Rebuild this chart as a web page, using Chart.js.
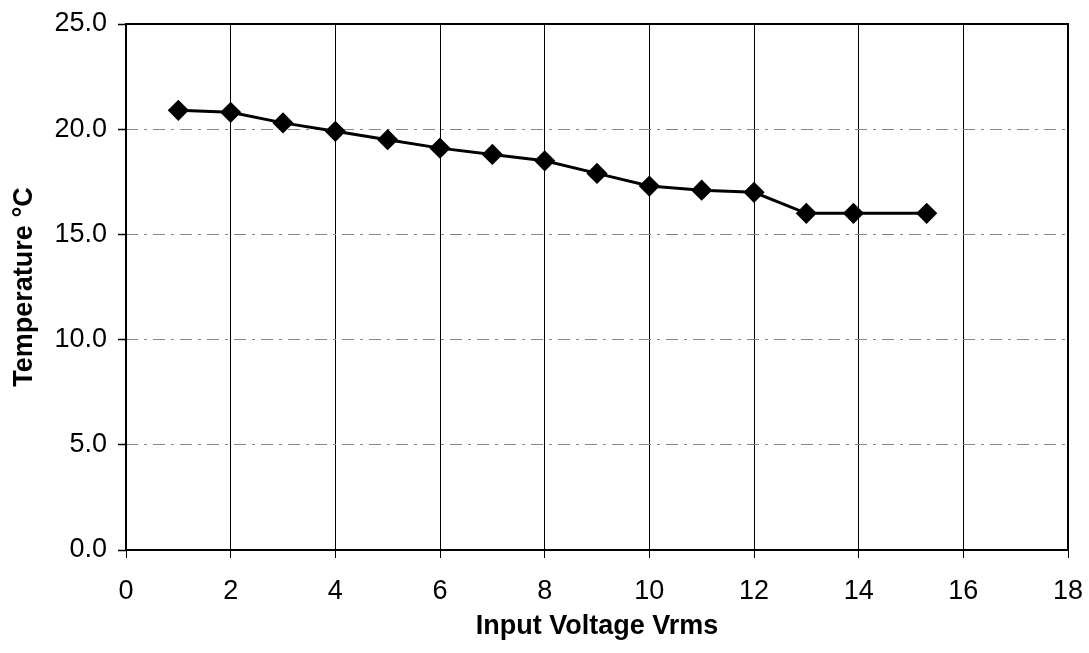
<!DOCTYPE html>
<html>
<head>
<meta charset="utf-8">
<script src="https://cdn.jsdelivr.net/npm/chart.js@4"></script>
<style>
  html, body { margin: 0; padding: 0; background: #fff; }
  #chartBox { width: 1089px; height: 653px; }
</style>
</head>
<body>
<div id="chartBox"><canvas id="tempChart" width="1089" height="653"></canvas></div>
<script>
// Values
const voltages = [1, 2, 3, 4, 5, 6, 7, 8, 9, 10, 11, 12, 13, 13.9, 15.3];
const temperatures = [20.9, 20.8, 20.3, 19.9, 19.5, 19.1, 18.8, 18.5, 17.9, 17.3, 17.1, 17.0, 16.0, 16.0, 16.0];
const xTicks = [0, 2, 4, 6, 8, 10, 12, 14, 16, 18];
const yTicks = [0, 5, 10, 15, 20, 25];

const xTitle = 'Input Voltage Vrms';
const yTitle = 'Temperature °C';

const fontFamily = 'Arial, "Liberation Sans", Helvetica, sans-serif';

// draw the box around the plot area
const frame = {
    id: 'frame',
    afterDraw(chart) {
        const a = chart.chartArea;
        const c = chart.ctx;
        c.save();
        c.strokeStyle = '#000';
        c.lineWidth = 2;
        c.strokeRect(a.left, a.top, a.right - a.left, a.bottom - a.top);
        c.restore();
    }
};

document.addEventListener('DOMContentLoaded', function () {
    const ctx = document.getElementById('tempChart').getContext('2d');

    const points = voltages.map((v, i) => ({ x: v, y: temperatures[i] }));

    new Chart(ctx, {
        type: 'line',
        data: {
            datasets: [{
                label: 'Temperature',
                data: points,
                borderColor: '#000',
                backgroundColor: '#000',
                borderWidth: 3,
                pointStyle: 'rectRot',
                pointRadius: 8.5,
                pointHoverRadius: 8.5,
                tension: 0
            }]
        },
        options: {
            responsive: false,
            animation: false,
            layout: {
                padding: { left: 0, right: 21, top: 24, bottom: 0 }
            },
            plugins: {
                legend: { display: false },
                tooltip: { enabled: false }
            },
            scales: {
                x: {
                    type: 'linear',
                    min: xTicks[0],
                    max: xTicks[xTicks.length - 1],
                    afterBuildTicks: s => { s.ticks = xTicks.map(v => ({ value: v })); },
                    afterFit: s => {
                        s.height = 103;
                        s.paddingLeft = 0;
                        s.paddingRight = 0;
                    },
                    grid: {
                        color: '#000',
                        lineWidth: 1,
                        tickLength: 8,
                        tickColor: '#000'
                    },
                    border: { display: false },
                    ticks: {
                        color: '#000',
                        padding: 17,
                        maxRotation: 0,
                        font: { family: fontFamily, size: 27 }
                    },
                    title: {
                        display: true,
                        text: xTitle,
                        color: '#000',
                        padding: { top: 0, bottom: 10 },
                        font: { family: fontFamily, size: 27, weight: 'bold' }
                    }
                },
                y: {
                    min: yTicks[0],
                    max: yTicks[yTicks.length - 1],
                    afterBuildTicks: s => { s.ticks = yTicks.map(v => ({ value: v })); },
                    afterFit: s => {
                        s.width = 126;
                        s.paddingTop = 0;
                        s.paddingBottom = 0;
                    },
                    grid: {
                        color: '#888',
                        lineWidth: 1,
                        tickLength: 8,
                        tickColor: '#000',
                        tickWidth: 1.5,
                        tickBorderDash: []
                    },
                    border: { display: false, dash: [12, 6, 3, 6] },
                    ticks: {
                        color: '#000',
                        padding: 11,
                        font: { family: fontFamily, size: 27 },
                        callback: v => v.toFixed(1)
                    },
                    title: {
                        display: true,
                        text: yTitle,
                        color: '#000',
                        padding: { top: 8, bottom: 0 },
                        font: { family: fontFamily, size: 27, weight: 'bold' }
                    }
                }
            }
        },
        plugins: [frame]
    });
});
</script>
</body>
</html>
